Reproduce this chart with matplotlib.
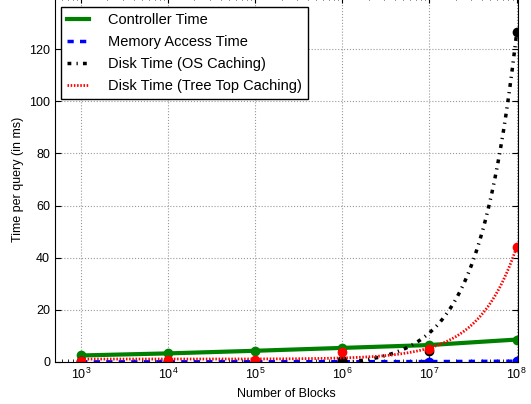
import matplotlib
matplotlib.use('Agg')
import matplotlib.pyplot as plt
import numpy as np

plt.rcParams['font.family'] = ['Liberation Sans', 'DejaVu Sans']
plt.rcParams['mathtext.default'] = 'regular'

# measured values per number of blocks
blocks = np.array([1e3, 1e4, 1e5, 1e6, 1e7, 1e8])
controller_time = np.array([2.5, 3.3, 4.3, 5.4, 6.5, 8.6])
memory_time = np.array([0.05, 0.06, 0.08, 0.1, 0.15, 0.3])
disk_os_time = np.array([0.2, 0.3, 0.4, 0.6, 4.3, 126.5])
disk_ttc_time = np.array([0.3, 0.6, 0.8, 3.7, 4.9, 44.0])

labels = ['Controller Time', 'Memory Access Time',
          'Disk Time (OS Caching)', 'Disk Time (Tree Top Caching)']


def main():
    fig = plt.figure(figsize=(5.31, 4.04), dpi=100)
    ax = fig.add_axes([0.1036, 0.104, 0.8719, 0.9034])

    # linear fits for the disk times, drawn on a dense grid
    xs = np.logspace(3, 8, 300)
    os_fit = np.polyval(np.polyfit(blocks, disk_os_time, 1), xs)
    ttc_fit = np.polyval(np.polyfit(blocks, disk_ttc_time, 1), xs)

    ax.plot(blocks, controller_time, '-', color='green', lw=3, label=labels[0])
    ax.plot(blocks, controller_time, 'o', color='green', ms=6, mec='green')
    ax.plot(blocks, memory_time, '--', color='blue', lw=2.5, dashes=(1.8, 1.8),
            label=labels[1])
    ax.plot(blocks, memory_time, 'o', color='blue', ms=6, mec='blue')
    ax.plot(xs, os_fit, '-.', color='black', lw=2.5,
            dashes=(1.1, 1.5, 0.35, 1.5), label=labels[2])
    ax.plot(blocks, disk_os_time, 'o', color='black', ms=6, mec='black')
    ax.plot(xs, ttc_fit, ':', color='red', lw=2, dashes=(0.55, 0.6),
            label=labels[3])
    ax.plot(blocks, disk_ttc_time, 'o', color='red', ms=6, mec='red')

    ax.set_xscale('log')
    ax.set_xlim(500, 1.04e8)
    ax.set_ylim(0, 140)
    ax.set_yticks(np.arange(0, 140, 20))
    ax.grid(True, color='#999999', linestyle=':', lw=0.8)
    ax.tick_params(which='both', direction='in', top=True, right=True, labelsize=9)
    ax.tick_params(which='major', length=4)
    ax.tick_params(which='minor', length=2)

    ax.set_xlabel('Number of Blocks', fontsize=9)
    ax.set_ylabel('Time per query (in ms)', fontsize=9)

    leg = ax.legend(loc='upper left', bbox_to_anchor=(0.013, 0.9726),
                    borderaxespad=0, fontsize=10.5, fancybox=False,
                    framealpha=1, edgecolor='black', handlelength=1.55,
                    handletextpad=1.3, labelspacing=0.55)
    leg.get_frame().set_linewidth(1.0)

    fig.savefig('out.png', dpi=100)


if __name__ == "__main__":
    main()
